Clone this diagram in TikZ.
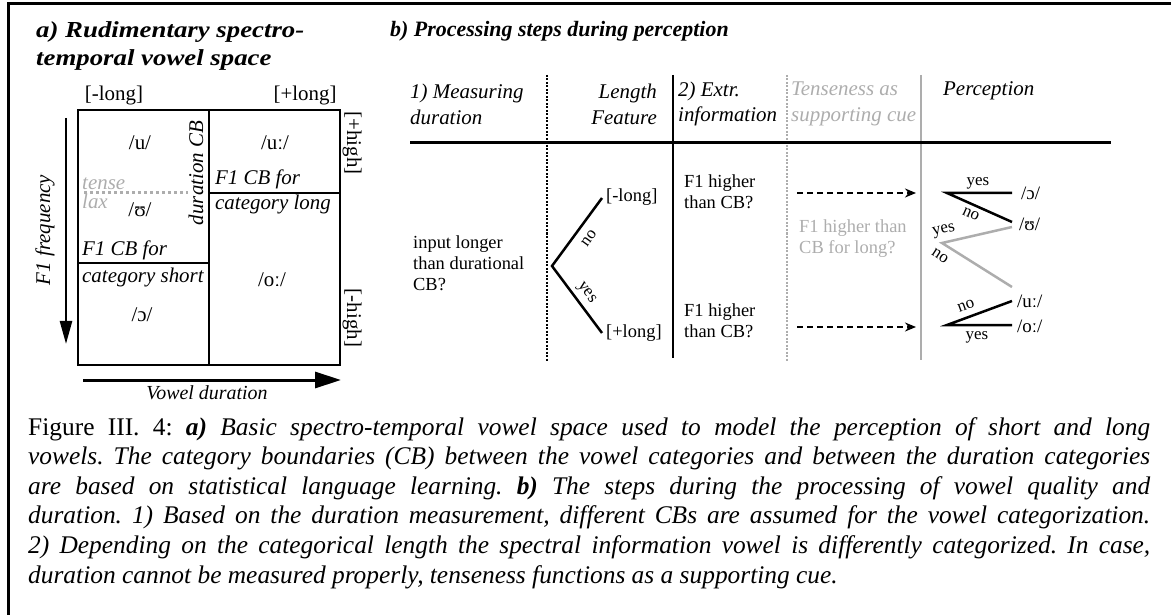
\documentclass[tikz,border=0pt]{standalone}
\usepackage{fontspec}
\setmainfont{Liberation Serif}
\usetikzlibrary{arrows.meta}
\definecolor{lgray}{gray}{0.68}
\frenchspacing
\tikzset{
  lp/.style={font=\fontsize{21}{25}\selectfont, inner sep=0pt},
  lpi/.style={font=\fontsize{21}{25}\selectfont\itshape, inner sep=0pt},
  ttl/.style={font=\fontsize{22}{28}\selectfont\bfseries\itshape, inner sep=0pt},
  ttla/.style={font=\fontsize{23}{28}\selectfont\bfseries\itshape, inner sep=0pt},
  hdr/.style={font=\fontsize{21}{26}\selectfont\itshape, inner sep=0pt},
  bodytxt/.style={font=\fontsize{18.5}{21}\selectfont, inner sep=0pt},
  smalltxt/.style={font=\fontsize{17}{20}\selectfont, inner sep=0pt},
  vow/.style={font=\fontsize{19}{22}\selectfont, inner sep=0pt},
  thickline/.style={line width=2.5bp},
  grayline/.style={line width=2.5bp, draw=lgray},
  captxt/.style={font=\fontsize{25.5}{29.6}\selectfont, inner sep=0pt, anchor=base west},
}
\newcommand\capline[1]{\makebox[1122bp][s]{#1}}
\newcommand\widettl[1]{\scalebox{1.17}[1]{#1}}
\begin{document}
\begin{tikzpicture}[x=1bp,y=-1bp]
\useasboundingbox (0,0) rectangle (1171,615);
% frame
\coordinate (fbl) at (8.5,615);
\coordinate (ftl) at (8.5,3.5);
\coordinate (ftr) at (1171,3.5);
\draw[line width=2.8bp] (fbl) -- (ftl) -- (ftr);

% ---------------- a) ----------------
\node[ttla, anchor=base west] (ta1) at (36,38) {\widettl{a) Rudimentary spectro-}};
\node[ttla, anchor=base west] (ta2) at (36,66) {\widettl{temporal vowel space}};
\node[lp] (ml) at (114,96) {[-long]};
\node[lp] (pl) at (305,96) {[+long]};

\coordinate (bxtl) at (78,110);
\coordinate (bxbr) at (340,365);
\coordinate (dvt) at (209,110);
\coordinate (dvb) at (209,365);
\coordinate (hl1) at (78,263);
\coordinate (hl2) at (209,263);
\coordinate (hr1) at (209,193);
\coordinate (hr2) at (340,193);
\draw[thickline] (bxtl) rectangle (bxbr);
\draw[thickline] (dvt) -- (dvb);
\draw[thickline] (hl1) -- (hl2);
\draw[thickline] (hr1) -- (hr2);

\node[lp] (vu) at (140,143) {/u/};
\node[lp] (vuu) at (275,143) {/uː/};
\node[lp] (vU) at (140,210) {/ʊ/};
\node[lp] (vo) at (142,315) {/ɔ/};
\node[lp] (voo) at (272,280) {/oː/};
\node[lpi, rotate=90] (dcb) at (196,173) {duration CB};
\node[lpi, anchor=west] (cbl1) at (215,179) {F1 CB for};
\node[lpi, anchor=west] (cbl2) at (215,205) {category long};
\node[lpi, anchor=west] (cbs1) at (82,250) {F1 CB for};
\node[lpi, anchor=west] (cbs2) at (82,277) {category short};
\node[lpi, anchor=west, text=lgray] (tense) at (82,184) {tense};
\node[lpi, anchor=west, text=lgray] (lax) at (82,201) {lax};
\coordinate (tl1) at (84,193);
\coordinate (tl2) at (188,193);
\draw[draw=lgray, line width=3bp, dash pattern=on 3bp off 3bp] (tl1) -- (tl2);
\node[lp, rotate=-90] (phigh) at (352,143) {[+high]};
\node[lp, rotate=-90] (mhigh) at (352,318) {[-high]};

\coordinate (f1a) at (66,118);
\coordinate (f1b) at (66,344);
\draw[thickline, -{Triangle[length=23bp,width=12bp]}] (f1a) -- (f1b);
\node[lpi, rotate=90] (f1f) at (45,230) {F1 frequency};
\coordinate (vda) at (83,380);
\coordinate (vdb) at (341,380);
\draw[line width=3bp, -{Triangle[length=26bp,width=16bp]}] (vda) -- (vdb);
\node[lpi, font=\fontsize{20}{24}\selectfont\itshape] (vdur) at (207,393) {Vowel duration};

% ---------------- b) ----------------
\node[ttl, anchor=base west] (tb) at (390,37) {b) Processing steps during perception};
\node[hdr, anchor=west, align=left] (h1) at (410,104) {1) Measuring\\duration};
\node[hdr, anchor=east, align=right] (h2) at (657,104) {Length\\Feature};
\node[hdr, anchor=west, align=left] (h3) at (678,104) {2) Extr.\\information};
\node[hdr, anchor=west, align=left, text=lgray] (h4) at (791,104) {Tenseness as\\supporting cue};
\node[hdr, anchor=west] (h5) at (943,91) {Perception};

\coordinate (c1t) at (547,75);  \coordinate (c1b) at (547,362);
\coordinate (c2t) at (673,75);  \coordinate (c2b) at (673,358);
\coordinate (c3t) at (787,75);  \coordinate (c3b) at (787,362);
\coordinate (c4t) at (921,75);  \coordinate (c4b) at (921,360);
\draw[line width=2.5bp, dash pattern=on 2bp off 1.5bp] (c1t) -- (c1b);
\draw[thickline] (c2t) -- (c2b);
\draw[draw=lgray, line width=2.5bp, dash pattern=on 2bp off 1.5bp] (c3t) -- (c3b);
\draw[grayline] (c4t) -- (c4b);
\coordinate (hh1) at (410,143);
\coordinate (hh2) at (1111,143);
\draw[line width=3bp] (hh1) -- (hh2);

\node[bodytxt, anchor=west, align=left] (inp) at (413,263) {input longer\\than durational\\CB?};
\coordinate (bv) at (552,266);
\coordinate (bu) at (602,198);
\coordinate (bl) at (602,333);
\draw[thickline] (bu) -- (bv) -- (bl);
\node[smalltxt, rotate=54] (bno) at (589,238) {no};
\node[smalltxt, rotate=-54] (byes) at (586,293) {yes};
\node[bodytxt, anchor=west] (lm) at (606,197) {[-long]};
\node[bodytxt, anchor=west] (lp2) at (606,333) {[+long]};

\node[bodytxt, anchor=west, align=left] (q1) at (684,192) {F1 higher\\than CB?};
\node[bodytxt, anchor=west, align=left] (q2) at (684,321) {F1 higher\\than CB?};
\coordinate (da1) at (797,193); \coordinate (da2) at (916,193);
\coordinate (db1) at (797,327); \coordinate (db2) at (916,327);
\draw[line width=2.2bp, dash pattern=on 6bp off 4bp, -{Stealth[length=11bp,width=9bp]}] (da1) -- (da2);
\draw[line width=2.2bp, dash pattern=on 6bp off 4bp, -{Stealth[length=11bp,width=9bp]}] (db1) -- (db2);
\node[bodytxt, anchor=west, align=left, text=lgray] (q3) at (799,239) {F1 higher than\\CB for long?};

% perception branches
\coordinate (p1v) at (947,193);
\coordinate (p1a) at (1012,193);
\coordinate (p1b) at (1012,222);
\draw[thickline] (p1a) -- (p1v) -- (p1b);
\node[smalltxt] (p1yes) at (978,183) {yes};
\node[smalltxt, rotate=-24] (p1no) at (971,214) {no};

\coordinate (p2v) at (942,243);
\coordinate (p2a) at (1012,227);
\coordinate (p2b) at (1012,287);
\draw[grayline] (p2a) -- (p2v) -- (p2b);
\node[smalltxt, rotate=13] (p2yes) at (944,231) {yes};
\node[smalltxt, rotate=-33] (p2no) at (940,256) {no};

\coordinate (p3v) at (947,325);
\coordinate (p3a) at (1012,301);
\coordinate (p3b) at (1012,325);
\draw[thickline] (p3a) -- (p3v) -- (p3b);
\node[smalltxt, rotate=20] (p3no) at (966,306) {no};
\node[smalltxt] (p3yes) at (977,337) {yes};

\node[vow, anchor=west] (po) at (1021,193) {/ɔ/};
\node[vow, anchor=west] (pU) at (1019,224) {/ʊ/};
\node[vow, anchor=west] (puu) at (1017,301) {/uː/};
\node[vow, anchor=west] (poo) at (1017,326) {/oː/};

% caption
\node[captxt] (cap1) at (28,435) {\capline{Figure III. 4: \textbf{\textit{a)}} \textit{Basic spectro-temporal vowel space used to model the perception of short and long}}};
\node[captxt] (cap2) at (28,464.6) {\capline{\itshape vowels. The category boundaries (CB) between the vowel categories and between the duration categories}};
\node[captxt] (cap3) at (28,494.2) {\capline{\itshape are based on statistical language learning. \textbf{b)} The steps during the processing of vowel quality and}};
\node[captxt] (cap4) at (28,523.8) {\capline{\itshape duration. 1) Based on the duration measurement, different CBs are assumed for the vowel categorization.}};
\node[captxt] (cap5) at (28,553.4) {\capline{\itshape 2) Depending on the categorical length the spectral information vowel is differently categorized. In case,}};
\node[captxt] (cap6) at (28,583) {\itshape duration cannot be measured properly, tenseness functions as a supporting cue.};
\end{tikzpicture}
\end{document}
